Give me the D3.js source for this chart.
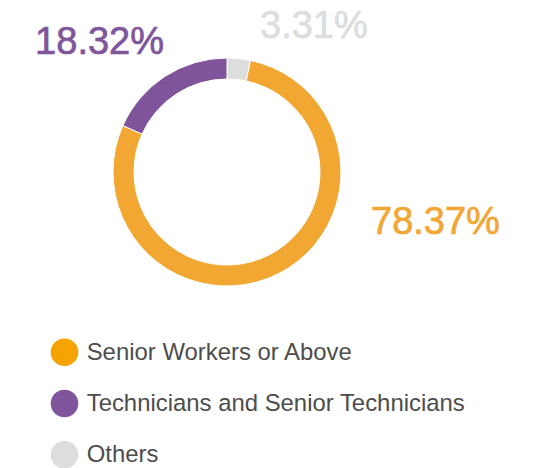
<!DOCTYPE html>
<html>
<head>
<meta charset="utf-8">
<script src="https://cdn.jsdelivr.net/npm/d3@7"></script>
<style>
  html, body { margin: 0; padding: 0; background: #ffffff; }
  svg { display: block; }
  text { font-family: "Liberation Sans", Arial, sans-serif; }
</style>
</head>
<body>
<div id="chart"></div>
<script>
// Workforce composition by skill level (percent of total)
const categories = ["Others", "Senior Workers or Above", "Technicians and Senior Technicians"];
const shares = [3.31, 78.37, 18.32];
const ringColors = ["#dcdddd", "#f2a733", "#7f549a"];
const labelColors = ["#dcdddd", "#f2a633", "#7f559b"];

// Legend entries, in display order
const legendNames = ["Senior Workers or Above", "Technicians and Senior Technicians", "Others"];
const legendColors = ["#f5a300", "#7f549a", "#dcdddd"];

const width = 537, height = 468;
const cx = 227, cy = 172;
const outerR = 114, innerR = 93;

const svg = d3.select("#chart").append("svg")
  .attr("width", width)
  .attr("height", height);

const pie = d3.pie().sort(null).value(d => d)(shares);
const arc = d3.arc().innerRadius(innerR).outerRadius(outerR);

const ring = svg.append("g").attr("transform", `translate(${cx},${cy})`);
ring.selectAll("path")
  .data(pie)
  .join("path")
  .attr("d", arc)
  .attr("fill", (d, i) => ringColors[i])
  .attr("stroke", "#ffffff")
  .attr("stroke-width", 1);

// Percentage labels placed around the ring
const fmt = d3.format(".2f");
const labelLayout = [
  { dx: 33, dy: -134, anchor: "start" },   // Others
  { dx: 144, dy: 62, anchor: "start" },    // Senior Workers
  { dx: -63, dy: -118, anchor: "end" }     // Technicians
];
ring.selectAll("text.pct")
  .data(pie)
  .join("text")
  .attr("class", "pct")
  .attr("x", (d, i) => labelLayout[i].dx)
  .attr("y", (d, i) => labelLayout[i].dy)
  .attr("text-anchor", (d, i) => labelLayout[i].anchor)
  .attr("fill", (d, i) => labelColors[i])
  .attr("stroke", (d, i) => labelColors[i])
  .attr("stroke-width", 0.7)
  .style("font-size", "38px")
  .text(d => fmt(d.data) + "%");

// Legend
const legendY = d3.scalePoint().domain(legendNames).range([352.2, 454.7]);
const legend = svg.append("g");
const rows = legend.selectAll("g")
  .data(legendNames)
  .join("g")
  .attr("transform", d => `translate(64.5,${legendY(d)})`);
rows.append("circle")
  .attr("r", 13.8)
  .attr("fill", (d, i) => legendColors[i]);
rows.append("text")
  .attr("x", 22.2)
  .attr("y", 7.5)
  .attr("fill", "#4d4d4d")
  .style("font-size", "23.9px")
  .text(d => d);
</script>
</body>
</html>
